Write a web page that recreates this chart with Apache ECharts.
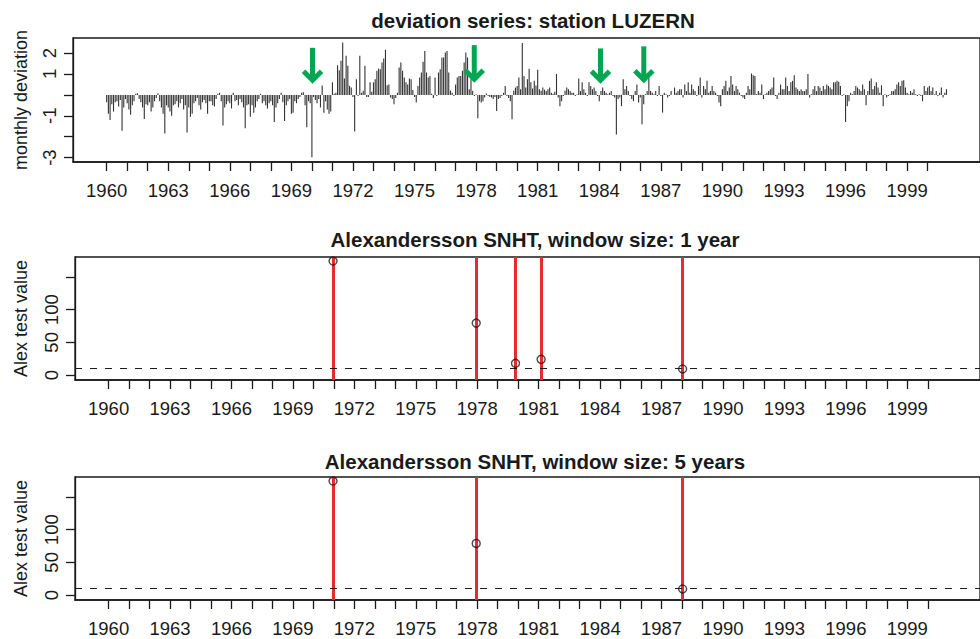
<!DOCTYPE html>
<html>
<head>
<meta charset="utf-8">
<title>deviation series: station LUZERN</title>
<script src="https://cdn.jsdelivr.net/npm/echarts@6.0.0/dist/echarts.min.js"></script>
<style>
html, body { margin: 0; padding: 0; background: #fff; }
#chart { width: 980px; height: 639px; }
</style>
</head>
<body>
<div id="chart"></div>
<script>
// monthly deviations, Jan..Dec for each year
const startYear = 1960;
const dev1960s = [
  -0.35, -0.9, -1.2, -0.45, -0.8, -0.35, -0.3, -0.55, -0.25, -1.72, -0.6, -0.2,
  -0.4, -0.7, -0.95, -0.5, -0.3, 0.05, 0.08, -0.2, -0.35, -0.6, -1.15, -0.45,
  -0.5, -0.35, -0.8, -0.6, -0.3, -0.15, 0.08, -0.3, -0.6, -0.9, -1.85, -0.5,
  -0.6, -0.8, -1.0, -0.5, -0.45, -0.3, -0.6, -0.4, -0.2, -0.7, -0.5, -1.8,
  -0.6, -1.05, -0.9, -0.4, -0.3, -0.15, -0.5, -0.7, -0.35, -0.25, -0.4, -0.9,
  -0.3, -0.3, -0.5, -0.55, -0.2, 0.05, 0.1, -0.3, -1.46, -0.6, -0.45, -0.3,
  -0.4, -0.65, 0.1, -0.3, -0.25, -0.5, -0.2, -0.35, -0.6, -1.6, -0.5, -0.45,
  -1.05, -0.5, -0.85, -0.6, -0.3, -0.2, 0.05, -0.4, -0.3, -0.5, -0.65, -0.4,
  -0.3, -0.5, -1.3, -0.6, -0.4, -0.2, 0.1, -0.35, -1.25, -0.5, -0.3, -0.2,
  -0.9, -0.85, -0.3, -0.4, -0.2, -0.1, 0.1, 0.12, -0.5, -1.55, -0.3, -0.4
];
const dev1970s = [
  -2.98, -0.1, -0.25, -0.4, -0.2, -0.6, 0.45, -0.85, -0.3, -0.7, -0.9, -0.8,
  0.6, 0.05, 0.1, 1.42, 1.18, 1.63, 2.5, 0.78, 1.87, 1.39, 0.43, 0.35,
  -0.1, -1.75, 0.75, -0.05, 1.87, 0.1, 0.2, 1.39, -0.1, -0.1, 0.6, 0.15,
  0.6, 0.75, 1.15, 1.26, 1.23, 1.55, 1.74, 2.16, 0.46, 0.5, -0.13, -0.2,
  -0.45, -0.15, 0.1, 1.31, 1.55, 1.15, 0.83, 0.6, 0.5, 0.78, 0.75, 0.23,
  -0.1, -0.37, 0.43, 0.83, 1.07, 1.58, 2.1, 1.07, 0.83, 0.9, 0.05, -0.15,
  0.83, -0.05, 1.07, 1.23, 1.79, 1.79, 2.03, 2.1, 1.07, 0.2, 0.1, -0.05,
  0.5, 0.83, 0.9, 0.9, 1.15, 1.55, 2.03, 1.79, 0.27, 0.75, 0.2, -0.05,
  0.03, -1.12, -0.3, -0.37, -0.3, -0.13, 0.07, -0.05, -0.1, -0.13, -0.2, -0.1,
  -0.77, -0.2, -0.15, -0.05, 0.1, 0.43, -0.05, -0.15, -0.3, -1.17, 0.2, 0.35
];
const dev1980s = [
  0.43, 0.83, 0.27, 2.48, 0.9, 0.35, 0.75, 1.25, 0.6, 0.3, 0.67, 0.45,
  1.2, 0.27, 0.2, 0.35, 0.25, 0.18, 0.27, 0.35, 0.1, 0.05, 0.15, 1.0,
  -0.13, -0.54, -0.3, -0.05, 0.2, 0.35, 0.27, 0.18, 0.1, 0.1, -0.05, 0.02,
  0.78, 0.18, 0.6, 0.27, 0.1, -0.05, 0.6, 0.43, 0.27, 0.35, 0.18, -0.05,
  -0.3, 0.18, 0.35, 0.18, 0.1, 0.03, 0.1, 0.18, -0.05, -0.13, -1.9, -0.2,
  -0.13, -0.54, 0.75, 0.27, 0.43, 0.18, -0.05, -0.2, -0.3, 0.18, 0.5, -0.37,
  -0.13, -1.4, -0.45, 0.03, 0.18, 0.83, 0.18, 0.1, 0.03, 0.18, -0.05, 0.43,
  -0.05, -0.85, 0.1, 0.03, -0.13, -0.05, 0.18, 0.0, 0.35, 0.1, 0.18, 0.27,
  0.27, -0.13, 0.5, 0.18, 0.6, 0.1, 0.5, 0.27, 0.18, -0.05, 0.43, 0.83,
  -0.13, 0.43, 0.27, 0.67, 0.1, 0.18, 0.43, 0.18, 0.1, -0.05, -0.37, -0.54
];
const dev1990s = [
  0.27, 0.43, 0.67, 0.18, 0.35, 0.9, 0.5, 0.18, 0.43, 0.27, 0.1, -0.05,
  -0.13, -0.2, 0.1, 0.43, 0.27, 1.02, 0.94, 0.9, 0.03, 0.18, 0.1, 0.5,
  -0.2, 0.03, 0.1, 0.18, 0.27, 0.35, 0.83, -0.05, -0.2, 0.1, 0.5, 0.27,
  0.27, 0.83, 0.43, 0.18, 0.6, 0.67, 0.94, 0.35, 0.27, 0.18, 0.27, 0.18,
  0.18, 0.27, 1.0, -0.13, 0.03, 0.27, 0.43, 0.18, 0.43, 0.35, 0.18, 0.43,
  0.27, 0.5, 0.43, 0.35, 0.27, 0.6, 0.6, 0.67, 0.63, 0.43, -0.05, 0.03,
  -1.3, -0.54, -0.3, 0.1, 0.03, 0.18, 0.43, 0.35, 0.27, 0.18, 0.5, 0.27,
  -0.5, 0.18, 0.67, 0.78, 0.27, 0.43, 0.6, 0.35, 0.1, 0.46, -0.54, 0.03,
  -0.13, -0.05, 0.03, 0.18, 0.18, 0.27, 0.5, 0.6, 0.43, 0.67, 0.7, 0.35,
  0.1, 0.03, 0.18, 0.1, 0.27, 0.03, -0.05, 0.03, -0.05, -0.3, 0.43, 0.18
];
const dev2000 = [0.35, 0.43, 0.18, 0.35, 0.03, 0.18, -0.05, 0.1, 0.35, -0.13, 0.1, 0.27];

// green arrows on the deviation plot (year, tip value, tail value)
const arrowYears = [1970.03, 1977.91, 1984.06, 1986.17];
const arrowTip = [0.6, 0.65, 0.6, 0.63];
const arrowTail = [2.25, 2.38, 2.22, 2.32];

// SNHT results
const breaks1y = [1970.96, 1977.95, 1979.87, 1981.12, 1988.03];
const alex1y = [174.5, 79.5, 18, 24, 9.3];
const breaks5y = [1970.96, 1977.95, 1988.03];
const alex5y = [174.5, 79, 9.3];
const alexThreshold = 10;

// axes
const yearTicks = [1960, 1961, 1962, 1963, 1964, 1965, 1966, 1967, 1968, 1969, 1970,
  1971, 1972, 1973, 1974, 1975, 1976, 1977, 1978, 1979, 1980, 1981, 1982, 1983, 1984,
  1985, 1986, 1987, 1988, 1989, 1990, 1991, 1992, 1993, 1994, 1995, 1996, 1997, 1998,
  1999, 2000];
const yearLabels = [1960, 1963, 1966, 1969, 1972, 1975, 1978, 1981, 1984, 1987, 1990, 1993, 1996, 1999];
const devTicks = [-3, -2, -1, 0, 1, 2];
const devLabels = [-3, -1, 1, 2];
const alexTicks = [0, 50, 100, 150];
const alexLabels = [0, 50, 100];

const titles = ['deviation series: station LUZERN',
  'Alexandersson SNHT, window size: 1 year',
  'Alexandersson SNHT, window size: 5 years'];

const devAll = dev1960s.concat(dev1970s, dev1980s, dev1990s, dev2000);
const devData = devAll.map((v, i) => [startYear + i / 12, v]);

const FONT = '"Liberation Sans", Arial, Helvetica, sans-serif';
const INK = '#1a1a1a';
const RED = '#ea2a2f';
const GREEN = '#00a651';

function xAxisFor(gridIndex) {
  return {
    type: 'value', gridIndex: gridIndex, min: 1958.36, max: 2002.55,
    axisLine: { show: true, onZero: false, lineStyle: { color: INK, width: 1.5 } },
    axisTick: { show: true, length: 9, customValues: yearTicks, lineStyle: { color: INK, width: 1.3 } },
    axisLabel: { customValues: yearLabels, margin: 19, fontSize: 18.5, color: INK, fontFamily: FONT,
      formatter: v => String(Math.round(v)) },
    splitLine: { show: false }
  };
}

function yAxisFor(gridIndex, min, max, ticks, labels, name, gap) {
  return {
    type: 'value', gridIndex: gridIndex, min: min, max: max,
    name: name, nameLocation: 'middle', nameRotate: 90, nameGap: gap,
    nameTextStyle: { fontSize: 18, color: INK, fontFamily: FONT },
    axisLine: { show: true, onZero: false, lineStyle: { color: INK, width: 1.3 } },
    axisTick: { show: true, length: 9, customValues: ticks, lineStyle: { color: INK, width: 1.3 } },
    axisLabel: { customValues: labels, rotate: 90, margin: 14, fontSize: 18.5, color: INK, fontFamily: FONT },
    splitLine: { show: false }
  };
}

function snhtSeries(idx, years, values) {
  return [{
    type: 'scatter', xAxisIndex: idx, yAxisIndex: idx, z: 2,
    data: [],
    markLine: {
      silent: true, symbol: 'none', label: { show: false },
      lineStyle: { color: RED, width: 3, type: 'solid' },
      data: years.map(y => ({ xAxis: y }))
    }
  }, {
    type: 'scatter', xAxisIndex: idx, yAxisIndex: idx, z: 3,
    data: [],
    markLine: {
      silent: true, symbol: 'none', label: { show: false },
      lineStyle: { color: INK, width: 1.2, type: [7, 8] },
      data: [{ yAxis: alexThreshold }]
    }
  }, {
    type: 'scatter', xAxisIndex: idx, yAxisIndex: idx, z: 5, silent: true,
    symbol: 'circle', symbolSize: 8,
    itemStyle: { color: 'rgba(255,255,255,0)', borderColor: INK, borderWidth: 1.4 },
    data: years.map((y, i) => [y, values[i]])
  }];
}

const chart = echarts.init(document.getElementById('chart'), null, { renderer: 'svg' });
chart.setOption({
  animation: false,
  backgroundColor: '#fff',
  title: [
    { text: titles[0], left: 528, top: 5, textAlign: 'center' },
    { text: titles[1], left: 530, top: 224, textAlign: 'center' },
    { text: titles[2], left: 530, top: 446, textAlign: 'center' }
  ].map(t => Object.assign(t, { textStyle: { fontSize: 20.5, fontWeight: 'bold', color: INK, fontFamily: FONT } })),
  grid: [
    { left: 73, top: 38, width: 910, height: 124, show: true, borderColor: INK, borderWidth: 1.3, backgroundColor: 'transparent' },
    { left: 75, top: 257, width: 910, height: 123, show: true, borderColor: INK, borderWidth: 1.3, backgroundColor: 'transparent' },
    { left: 75, top: 477, width: 910, height: 123, show: true, borderColor: INK, borderWidth: 1.3, backgroundColor: 'transparent' }
  ],
  xAxis: [xAxisFor(0), xAxisFor(1), xAxisFor(2)],
  yAxis: [
    yAxisFor(0, -3.21, 2.72, devTicks, devLabels, 'monthly deviation', 43),
    yAxisFor(1, -7.6, 180.7, alexTicks, alexLabels, 'Alex test value', 45),
    yAxisFor(2, -7.6, 180.7, alexTicks, alexLabels, 'Alex test value', 45)
  ],
  series: [
    {
      type: 'bar', xAxisIndex: 0, yAxisIndex: 0, barWidth: 1.1, silent: true,
      itemStyle: { color: '#333' },
      data: devData
    },
    {
      type: 'custom', xAxisIndex: 0, yAxisIndex: 0, silent: true, z: 5,
      data: arrowYears.map((y, i) => [y, arrowTip[i], arrowTail[i]]),
      renderItem: function (params, api) {
        const tip = api.coord([api.value(0), api.value(1)]);
        const tail = api.coord([api.value(0), api.value(2)]);
        const st = { stroke: GREEN, lineWidth: 5, fill: null, lineJoin: 'miter' };
        return {
          type: 'group',
          children: [
            { type: 'line', shape: { x1: tip[0], y1: tail[1], x2: tip[0], y2: tip[1] - 3 }, style: st },
            { type: 'polyline', shape: { points: [[tip[0] - 9, tip[1] - 11], [tip[0], tip[1] - 2], [tip[0] + 9, tip[1] - 11]] }, style: st }
          ]
        };
      }
    }
  ].concat(snhtSeries(1, breaks1y, alex1y), snhtSeries(2, breaks5y, alex5y))
});
</script>
</body>
</html>
